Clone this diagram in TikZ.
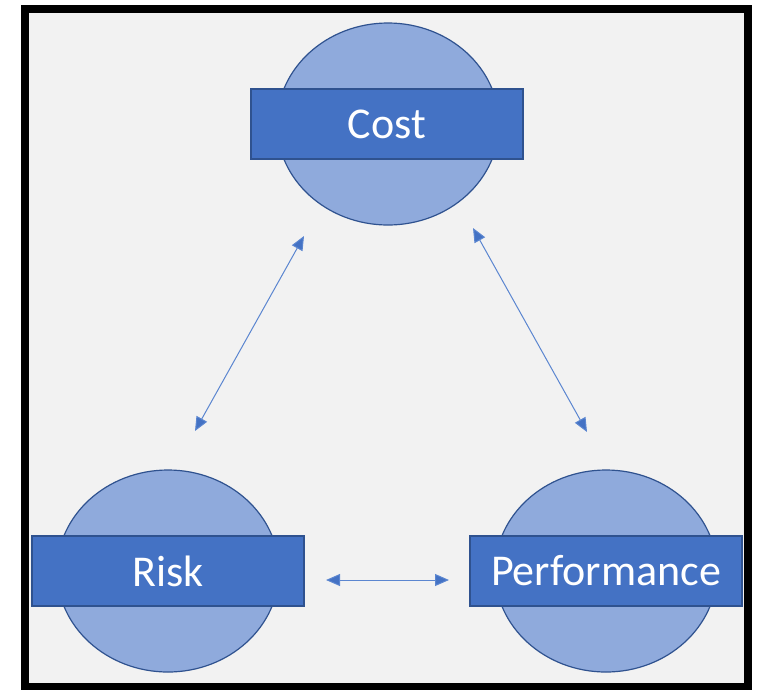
\documentclass[tikz,border=0pt]{standalone}
\usepackage{fontspec}
\setmainfont{Carlito}
\usetikzlibrary{arrows.meta,shapes.geometric,positioning}
\definecolor{bandblue}{HTML}{4472C4}
\definecolor{discblue}{HTML}{8FAADC}
\definecolor{edgeblue}{HTML}{2F528F}
\definecolor{linkblue}{HTML}{5B86D0}
\definecolor{panel}{HTML}{F2F2F2}
\tikzstyle{disc}=[ellipse, draw=edgeblue, fill=discblue,
                  line width=1.2pt, minimum width=222pt,
                  minimum height=202pt, inner sep=0pt]
\tikzstyle{band}=[rectangle, draw=edgeblue, fill=bandblue,
                  line width=1.2pt, minimum width=272pt,
                  minimum height=70pt, inner sep=0pt, text=white,
                  font=\fontsize{44}{50}\selectfont]
\tikzstyle{link}=[<->, >={Triangle[length=14pt,width=12pt,fill=bandblue]},
                  draw=linkblue, line width=1pt]

\begin{document}
\begin{tikzpicture}[x=1pt, y=-1pt]
    \useasboundingbox (0,0) rectangle (759,689);
    \fill[white] (0,0) rectangle (759,689);
    \draw[black, line width=8pt, fill=panel] (25,9) rectangle (748,687);
    \begin{scope}
        \node (costc) [disc] at (388,124) {};
        \node (cost) [band] at (387,124) {Cost};
        \node (riskc) [disc] at (168,571) {};
        \node (risk) [band] at (168,571) {Risk};
        \node (perfc) [disc] at (606,571) {};
        \node (perf) [band] at (606,571) {Performance};
        \coordinate (cr) at (304,236);
        \coordinate (rc) at (195,431);
        \coordinate (cp) at (473,228);
        \coordinate (pc) at (587,432);
        \coordinate (rp) at (326,580);
        \coordinate (pr) at (449,580);
        \draw[link] (cr) to (rc);
        \draw[link] (cp) to (pc);
        \draw[link] (rp) to (pr);
    \end{scope}
\end{tikzpicture}
\end{document}
